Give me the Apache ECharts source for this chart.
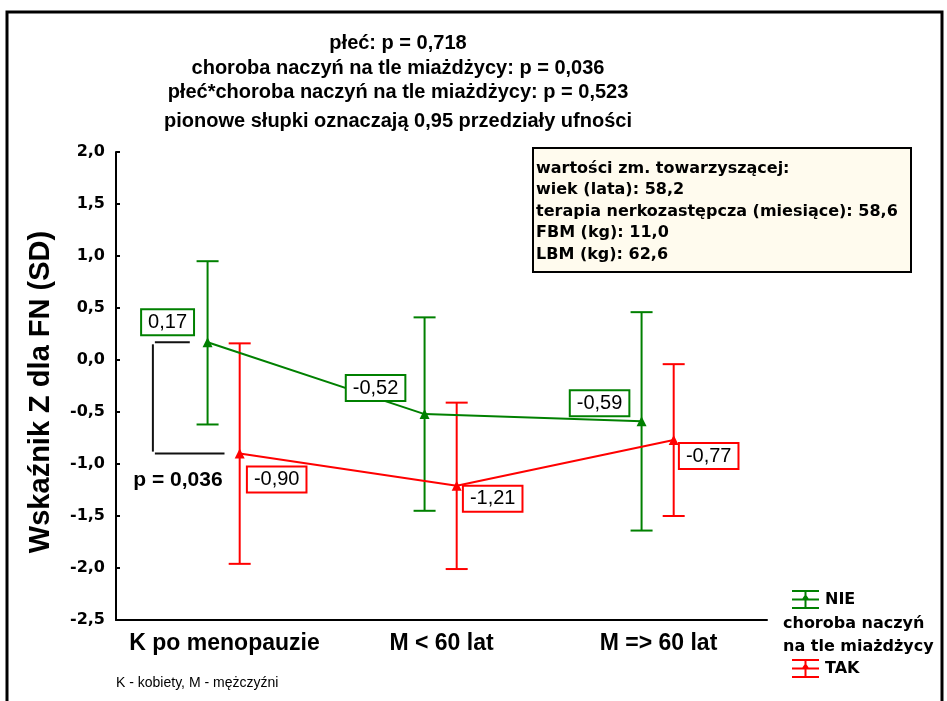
<!DOCTYPE html>
<html><head><meta charset="utf-8">
<script src="https://cdn.jsdelivr.net/npm/echarts@6/dist/echarts.min.js"></script>
<style>html,body{margin:0;padding:0;background:#fff}#c{width:947px;height:701px}</style>
</head><body><div id="c"></div>
<script>
// ---- data ----
const categories = ['K po menopauzie', 'M < 60 lat', 'M => 60 lat'];
const nieMean = [0.17, -0.52, -0.59];
const nieLow  = [-0.62, -1.45, -1.64];
const nieHigh = [0.95, 0.41, 0.46];
const takMean = [-0.90, -1.21, -0.77];
const takLow  = [-1.96, -2.01, -1.50];
const takHigh = [0.16, -0.41, -0.04];
const yMin = -2.5, yMax = 2.0, yStep = 0.5;
const yTitle = 'Wskaźnik Z dla FN (SD)';
const titleLines = [
  'płeć: p = 0,718',
  'choroba naczyń na tle miażdżycy: p = 0,036',
  'płeć*choroba naczyń na tle miażdżycy: p = 0,523',
  'pionowe słupki oznaczają 0,95 przedziały ufności'
];
const covariateLines = [
  'wartości zm. towarzyszącej:',
  'wiek (lata): 58,2',
  'terapia nerkozastępcza (miesiące): 58,6',
  'FBM (kg): 11,0',
  'LBM (kg): 62,6'
];
const pText = 'p = 0,036';
const footnote = 'K - kobiety, M - mężczyźni';
const legendTitle = 'choroba naczyń\nna tle miażdżycy';

// ---- layout / style constants ----
const GREEN = '#008000', RED = '#ff0000';
const OFF_NIE = -0.078, OFF_TAK = 0.07;
const nieLabelOffsets = [[-40, -20], [-49, -26], [-42, -18]];
const takLabelOffsets = [[37, 26], [36, 13], [35, 16]];
const titleY = [43, 68, 92, 121];
const ARIAL = '"Liberation Sans", Arial, sans-serif';
const DEJAVU = '"DejaVu Sans", sans-serif';

const fmt2 = v => v.toFixed(2).replace('.', ',');
const fmt1 = v => (Math.abs(v) < 1e-9 ? 0 : v).toFixed(1).replace('.', ',');

function lineSeries(name, means, offs, labelOffs, color) {
  return {
    name, type: 'line', xAxisIndex: 1, yAxisIndex: 0, z: 5,
    data: means.map((v, i) => ({ value: [i + 0.5 + offs, v], label: { offset: labelOffs[i] } })),
    symbol: 'triangle', symbolSize: 10,
    itemStyle: { color },
    lineStyle: { color, width: 2 },
    label: {
      show: true, position: 'inside',
      formatter: p => fmt2(p.value[1]),
      fontFamily: ARIAL, fontSize: 20, color: '#000',
      backgroundColor: '#fff', borderColor: color, borderWidth: 2,
      padding: [3, 6, 1, 6]
    },
    emphasis: { disabled: true }
  };
}

function ciSeries(name, lows, highs, offs, color) {
  return {
    name, type: 'custom', xAxisIndex: 1, yAxisIndex: 0, z: 3,
    data: lows.map((lo, i) => [i + 0.5 + offs, lo, highs[i]]),
    encode: { x: 0, y: [1, 2] },
    renderItem: (params, api) => {
      const x = api.value(0);
      const pHi = api.coord([x, api.value(2)]);
      const pLo = api.coord([x, api.value(1)]);
      const hw = 11;
      const st = { stroke: color, lineWidth: 2 };
      return { type: 'group', children: [
        { type: 'line', shape: { x1: pHi[0], y1: pHi[1], x2: pLo[0], y2: pLo[1] }, style: st },
        { type: 'line', shape: { x1: pHi[0] - hw, y1: pHi[1], x2: pHi[0] + hw, y2: pHi[1] }, style: st },
        { type: 'line', shape: { x1: pLo[0] - hw, y1: pLo[1], x2: pLo[0] + hw, y2: pLo[1] }, style: st }
      ]};
    },
    silent: true
  };
}

const bracketSeries = {
  name: 'bracket', type: 'custom', xAxisIndex: 1, yAxisIndex: 0, z: 2,
  data: [[0, nieMean[0], takMean[0]]],
  encode: { x: 0, y: [1, 2] },
  renderItem: (params, api) => {
    const xV = 0.17, xTop = 0.34, xBot = 0.5;
    const a = api.coord([xTop, api.value(1)]);
    const b = api.coord([xV, api.value(1)]);
    const c = api.coord([xV, api.value(2)]);
    const d = api.coord([xBot, api.value(2)]);
    const st = { stroke: '#111', lineWidth: 2 };
    return { type: 'group', children: [
      { type: 'line', shape: { x1: a[0], y1: a[1], x2: b[0] + 2, y2: b[1] }, style: st },
      { type: 'line', shape: { x1: b[0], y1: b[1] + 2, x2: c[0], y2: c[1] - 2 }, style: st },
      { type: 'line', shape: { x1: c[0] + 2, y1: c[1], x2: d[0], y2: d[1] }, style: st }
    ]};
  },
  silent: true
};

const legendIcon = 'path://M0,0H27V2H0Z M0,8.5H27V10.5H0Z M0,17H27V19H0Z M12.5,0H14.5V19H12.5Z M13.5,4L18,10.5H9Z';
const legendCommon = {
  orient: 'vertical', icon: legendIcon, itemWidth: 27, itemHeight: 19,
  selectedMode: false,
  textStyle: { fontFamily: DEJAVU, fontWeight: 'bold', fontSize: 16, color: '#000', padding: [0, 0, 0, 1] }
};

const graphics = [
  { type: 'rect', shape: { x: 7, y: 12, width: 935, height: 702 }, style: { fill: 'none', stroke: '#000', lineWidth: 3 }, z: 100 },
  ...titleLines.map((t, i) => ({
    type: 'text', x: 398, y: titleY[i],
    style: { text: t, fontFamily: ARIAL, fontWeight: 'bold', fontSize: 20, fill: '#000', textAlign: 'center', textVerticalAlign: 'middle' }
  })),
  { type: 'text', x: 41, y: 392, rotation: Math.PI / 2,
    style: { text: yTitle, fontFamily: ARIAL, fontWeight: 'bold', fontSize: 29, fill: '#000', textAlign: 'center', textVerticalAlign: 'middle' } },
  { type: 'rect', shape: { x: 533, y: 148, width: 378, height: 124 }, style: { fill: '#fffbee', stroke: '#000', lineWidth: 2 }, z: 10 },
  { type: 'text', x: 536, y: 158, z: 11,
    style: { text: covariateLines.join('\n'), fontFamily: DEJAVU, fontWeight: 'bold', fontSize: 16, lineHeight: 21.5, fill: '#000', textAlign: 'left', textVerticalAlign: 'top' } },
  { type: 'text', x: 178, y: 480,
    style: { text: pText, fontFamily: ARIAL, fontWeight: 'bold', fontSize: 21, fill: '#000', textAlign: 'center', textVerticalAlign: 'middle' } },
  { type: 'text', x: 783, y: 612,
    style: { text: legendTitle, fontFamily: DEJAVU, fontWeight: 'bold', fontSize: 16, lineHeight: 23, fill: '#000', textAlign: 'left', textVerticalAlign: 'top' } },
  { type: 'text', x: 116, y: 683,
    style: { text: footnote, fontFamily: ARIAL, fontSize: 14, fill: '#000', textAlign: 'left', textVerticalAlign: 'middle' } }
];

const chart = echarts.init(document.getElementById('c'), null, { renderer: 'canvas' });
chart.setOption({
  animation: false,
  backgroundColor: '#fff',
  grid: { left: 116, right: 180, top: 152, bottom: 81, containLabel: false, outerBoundsMode: 'none' },
  xAxis: [
    {
      type: 'category', data: categories, boundaryGap: true,
      axisLine: { show: true, onZero: false, lineStyle: { color: '#000', width: 2 } },
      axisTick: { show: false },
      axisLabel: { interval: 0, hideOverlap: false, margin: 12, fontFamily: ARIAL, fontWeight: 'bold', fontSize: 23, color: '#000' },
      splitLine: { show: false }
    },
    { type: 'value', min: 0, max: 3, show: false }
  ],
  yAxis: {
    type: 'value', min: yMin, max: yMax, interval: yStep,
    axisLine: { show: true, onZero: false, lineStyle: { color: '#000', width: 2 } },
    axisTick: { show: true, inside: true, length: 4, lineStyle: { color: '#000', width: 2 } },
    axisLabel: { margin: 11, formatter: fmt1, fontFamily: DEJAVU, fontWeight: 'bold', fontSize: 16, color: '#000' },
    splitLine: { show: false }
  },
  legend: [
    Object.assign({ data: ['NIE'], left: 787, top: 585 }, legendCommon),
    Object.assign({ data: ['TAK'], left: 787, top: 654 }, legendCommon)
  ],
  series: [
    bracketSeries,
    ciSeries('ciNIE', nieLow, nieHigh, OFF_NIE, GREEN),
    ciSeries('ciTAK', takLow, takHigh, OFF_TAK, RED),
    lineSeries('NIE', nieMean, OFF_NIE, nieLabelOffsets, GREEN),
    lineSeries('TAK', takMean, OFF_TAK, takLabelOffsets, RED)
  ],
  graphic: graphics
});
</script>
</body></html>
